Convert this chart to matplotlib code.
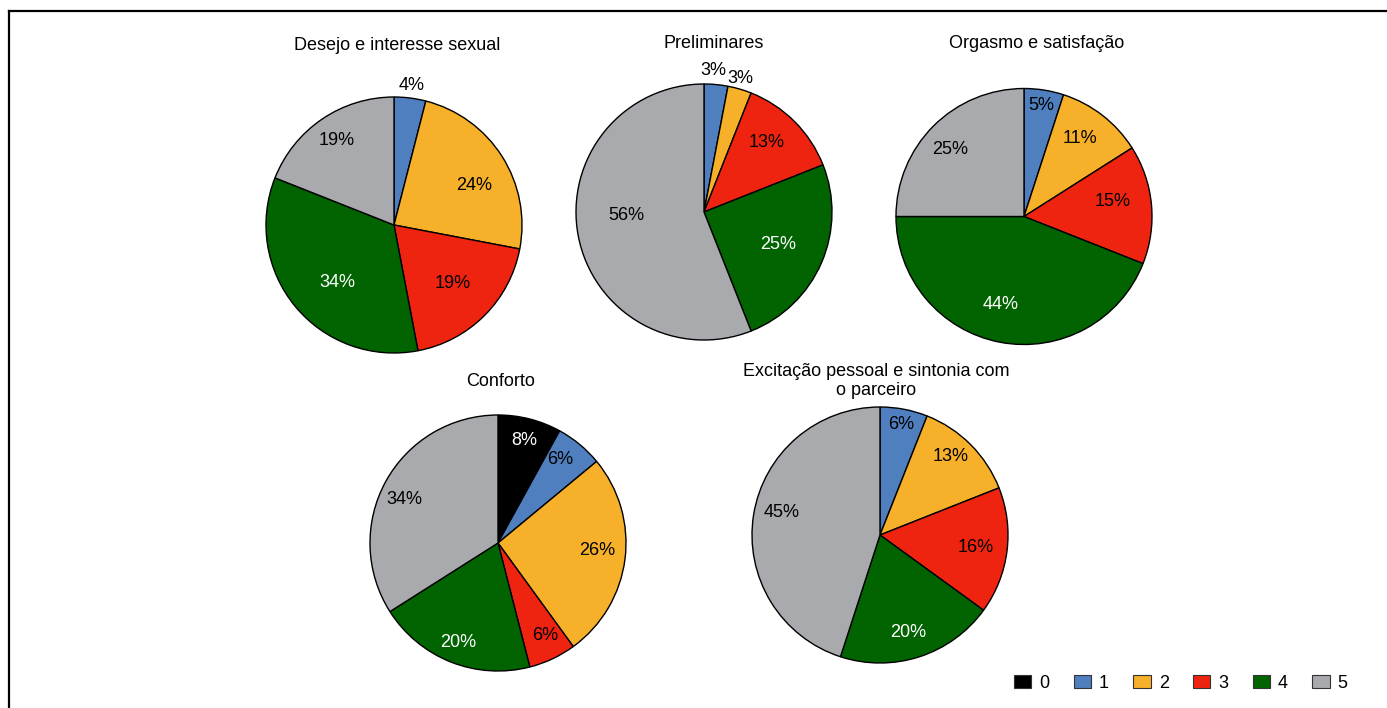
import matplotlib
matplotlib.use("Agg")
import matplotlib.pyplot as plt
from matplotlib.patches import Patch
from matplotlib.lines import Line2D

plt.rcParams['font.family'] = ['Liberation Sans', 'DejaVu Sans']

W, H = 1387, 708

# ---- data ----
categories = ["0", "1", "2", "3", "4", "5"]
titles = ["Desejo e interesse sexual", "Preliminares", "Orgasmo e satisfação",
          "Conforto", "Excitação pessoal e sintonia com\no parceiro"]
desejo = [0, 4, 24, 19, 34, 19]
preliminares = [0, 3, 3, 13, 25, 56]
orgasmo = [0, 5, 11, 15, 44, 25]
conforto = [8, 6, 26, 6, 20, 34]
excitacao = [0, 6, 13, 16, 20, 45]
series = [desejo, preliminares, orgasmo, conforto, excitacao]

# ---- style / layout ----
colors = ["#000000", "#4f7fbe", "#f6b02a", "#ee2410", "#016401", "#a9aaae"]
text_colors = ["white", "black", "black", "black", "white", "black"]
centers = [(394, 225), (704, 212), (1024, 216.5), (498, 543), (880, 535)]
radius = 128
title_pos = [(397, 46), (714, 43), (1037, 43), (501, 381), (876, 381)]
# label radial distance (fraction of radius) and angle offset (deg) per category
label_dist = [
    [0, 1.10, 0.70, 0.65, 0.63, 0.80],
    [0, 1.11, 1.08, 0.73, 0.63, 0.61],
    [0, 0.88, 0.75, 0.70, 0.71, 0.78],
    [0.83, 0.81, 0.78, 0.81, 0.84, 0.81],
    [0, 0.88, 0.82, 0.75, 0.79, 0.79],
]
label_off = [
    [0, 0, -6, 0, 6, 0],
    [0, 1.5, 1, 3, 0, -8],
    [0, 0, 2, 4, -4, 3],
    [0, 3, 3, 2, 0, 4, -1],
    [0, 0, 3, 0, -2, -4],
]

fig = plt.figure(figsize=(W / 100, H / 100), dpi=100)
ax = fig.add_axes([0, 0, 1, 1])
ax.set_xlim(0, W)
ax.set_ylim(0, H)
ax.set_aspect('equal')
ax.axis('off')

FS = 13
import numpy as np
for i, vals in enumerate(series):
    cx, cy = centers[i]
    idx = [k for k, v in enumerate(vals) if v > 0]
    v = [vals[k] for k in idx]
    c = [colors[k] for k in idx]
    wedges, _ = ax.pie(v, colors=c, startangle=90, counterclock=False,
                       center=(cx, H - cy), radius=radius,
                       wedgeprops=dict(edgecolor='black', linewidth=1.0),
                       frame=True)
    total = sum(v)
    cum = 0
    for k, val in zip(idx, v):
        mid = 90 - 360 * (cum + val / 2) / total + label_off[i][k]
        cum += val
        d = label_dist[i][k] * radius
        x = cx + d * np.cos(np.radians(mid))
        y = (H - cy) + d * np.sin(np.radians(mid))
        inside = label_dist[i][k] < 1
        tc = text_colors[k] if inside else "black"
        ax.text(x, y, f"{val}%", ha='center', va='center', fontsize=FS, color=tc)
    tx, ty = title_pos[i]
    ax.text(tx, H - ty, titles[i], ha='center', va='center', fontsize=FS,
            multialignment='center', linespacing=1.15)

ax.set_xlim(0, W)
ax.set_ylim(0, H)
ax.axis('off')

handles = [Patch(facecolor=colors[k], edgecolor='#333333', linewidth=0.8, label=categories[k])
           for k in range(len(categories))]
fig.legend(handles=handles, loc='center left', bbox_to_anchor=(1014 / W, 1 - 683 / H),
           ncol=6, frameon=False, fontsize=FS, handlelength=0.95, handleheight=0.72,
           handletextpad=0.45, columnspacing=1.35, borderpad=0, borderaxespad=0)

fig.add_artist(Line2D([8.5 / W, 8.5 / W], [0, 1 - 10.5 / H], transform=fig.transFigure,
                      color='black', linewidth=1.6))
fig.add_artist(Line2D([8.5 / W, 1.0], [1 - 10.5 / H, 1 - 10.5 / H], transform=fig.transFigure,
                      color='black', linewidth=1.6))

fig.savefig("out.png", dpi=100)
